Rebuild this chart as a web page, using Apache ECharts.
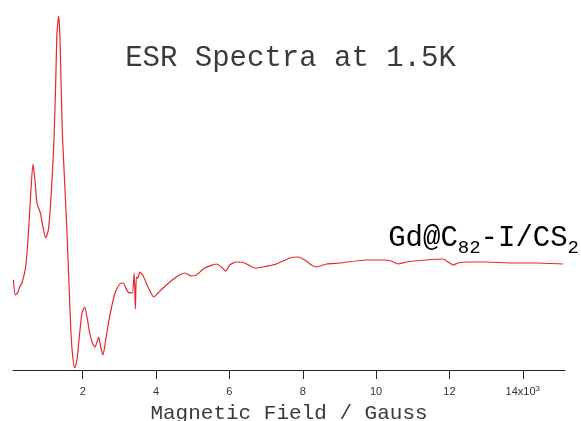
<!DOCTYPE html>
<html>
<head>
    <meta charset="utf-8">
    <title>ESR Spectra</title>
    <script src="https://cdn.jsdelivr.net/npm/echarts@6/dist/echarts.min.js"></script>
    <style type="text/css">
        html, body { margin: 0; padding: 0; background: #fff; }
        #main { width: 581px; height: 421px; }
    </style>
</head>
<body>
<div id="main"></div>
<script type="text/javascript">
    // magnetic field (Gauss) and ESR signal (arbitrary units)
    var field = [110, 164, 235, 282, 344, 445, 508, 574, 644, 699, 754, 846, 917, 991, 1064, 1119,
        1174, 1217, 1264, 1299, 1345, 1373, 1400, 1446, 1509, 1572, 1626, 1673, 1719, 1782, 1844,
        1918, 1981, 2054, 2117, 2191, 2264, 2335, 2390, 2436, 2491, 2553, 2627, 2717, 2873, 3009,
        3099, 3235, 3350, 3404, 3437, 3464, 3508, 3554, 3636, 3781, 3936, 4053, 4282, 4555, 4782,
        4964, 5101, 5327, 5646, 5782, 5900, 6009, 6192, 6418, 6691, 6917, 7282, 7645, 7872, 8054,
        8237, 8373, 8646, 9009, 9737, 10189, 10418, 10599, 10827, 11373, 11826, 11962, 12098,
        12235, 12464, 13009, 13735, 14373, 15098];
    var signal = [90, 75, 78, 83, 87, 103, 130, 170, 206, 190, 167, 157, 143, 132, 140, 163,
        197, 230, 287, 337, 354, 340, 303, 237, 187, 137, 87, 43, 17, 2, 10,
        37, 57, 63, 53, 37, 27, 23, 28, 33, 23, 15, 30, 50, 76, 86,
        87, 78, 77, 97, 61, 93, 92, 98, 95, 83, 73, 77, 85, 93, 97,
        94, 95, 102, 106, 103, 99, 105, 108, 107, 102, 103, 106, 112, 113, 110,
        105, 103, 106, 107, 110, 110, 109, 106, 108, 110, 111, 108, 105,
        107, 108, 108, 107, 107, 106];
    var tickValues = [2000, 4000, 6000, 8000, 10000, 12000, 14000];

    var points = field.map(function (f, i) { return [f, signal[i]]; });
    var mono = "'Liberation Mono', 'DejaVu Sans Mono', monospace";

    var chart = echarts.init(document.getElementById('main'));
    chart.setOption({
        animation: false,
        title: {
            text: 'ESR Spectra at 1.5K',
            left: 'center',
            top: 39,
            textStyle: { fontFamily: mono, fontSize: 29, fontWeight: 'normal', color: '#3a3a3a' }
        },
        grid: { left: 13, right: 16, top: 10, bottom: 51, outerBoundsMode: 'none', containLabel: false },
        xAxis: {
            type: 'value',
            min: 100,
            max: 15150,
            name: 'Magnetic Field / Gauss',
            nameLocation: 'middle',
            nameGap: 43,
            nameTextStyle: { fontFamily: mono, fontSize: 21, color: '#3a3a3a', verticalAlign: 'middle' },
            axisLine: { show: true, lineStyle: { color: '#222', width: 1 } },
            axisTick: { show: true, customValues: tickValues, length: 9, lineStyle: { color: '#222', width: 1 } },
            axisLabel: {
                customValues: tickValues,
                margin: 15,
                formatter: function (v) {
                    if (v === 14000) return '{b|14x10}{sup|3}';
                    return '{b|' + (v / 1000) + '}';
                },
                rich: {
                    b: { fontFamily: 'Liberation Sans, Arial', fontSize: 11, color: '#333', lineHeight: 14 },
                    sup: { fontFamily: 'Liberation Sans, Arial', fontSize: 8, color: '#333', lineHeight: 8, verticalAlign: 'top' }
                }
            },
            splitLine: { show: false }
        },
        yAxis: {
            type: 'value',
            min: 0,
            max: 360,
            show: false
        },
        graphic: [{
            type: 'text',
            right: 2,
            top: 220,
            style: {
                text: '{a|Gd@C}{s|82}{a|-I/CS}{s|2}',
                rich: {
                    a: { fontFamily: mono, fontSize: 29, color: '#3a3a3a', lineHeight: 30 },
                    s: { fontFamily: mono, fontSize: 19, color: '#3a3a3a', lineHeight: 19, padding: [18, 0, 0, 0] }
                }
            }
        }],
        series: [{
            type: 'line',
            data: points,
            showSymbol: false,
            smooth: 0.2,
            lineStyle: { color: '#e8262b', width: 1.2 }
        }]
    });
</script>
</body>
</html>
